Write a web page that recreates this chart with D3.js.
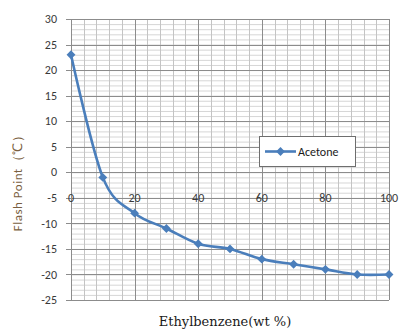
<!DOCTYPE html>
<html>
<head>
<meta charset="utf-8">
<script src="https://cdn.jsdelivr.net/npm/d3@7"></script>
<style>
  html, body { margin: 0; padding: 0; background: #fff; }
  svg { display: block; }
</style>
</head>
<body>
<svg id="chart" width="401" height="331"></svg>
<script>
// Flash point of acetone / ethylbenzene mixtures
const ethylbenzeneWt = [0, 10, 20, 30, 40, 50, 60, 70, 80, 90, 100];
const acetoneFlash   = [23, -1, -8, -11, -14, -15, -17, -18, -19, -20, -20];
const xTicks = [0, 20, 40, 60, 80, 100];
const yTicks = [30, 25, 20, 15, 10, 5, 0, -5, -10, -15, -20, -25];
const seriesName = "Acetone";

const svg = d3.select("#chart");
const x = d3.scaleLinear().domain([0, 100]).range([71, 389]);
const y = d3.scaleLinear().domain([-25, 30]).range([300, 19]);

// minor grid
const g = svg.append("g");
g.selectAll("line.hminor").data(d3.range(-25, 31, 1)).join("line")
  .attr("x1", x(0)).attr("x2", x(100))
  .attr("y1", d => y(d) + 0.5).attr("y2", d => y(d) + 0.5)
  .attr("stroke", "#d6d6d6").attr("stroke-width", 1);
g.selectAll("line.vminor").data(d3.range(0, 101, 4)).join("line")
  .attr("x1", d => Math.round(x(d)) + 0.5).attr("x2", d => Math.round(x(d)) + 0.5)
  .attr("y1", y(30)).attr("y2", y(-25))
  .attr("stroke", "#c4c4c4").attr("stroke-width", 1);
// major grid
g.selectAll("line.hmajor").data(yTicks).join("line")
  .attr("x1", x(0) - 5).attr("x2", x(100))
  .attr("y1", d => Math.round(y(d)) + 0.5).attr("y2", d => Math.round(y(d)) + 0.5)
  .attr("stroke", "#8c8c8c").attr("stroke-width", 1);
g.selectAll("line.vmajor").data(xTicks).join("line")
  .attr("x1", d => Math.round(x(d)) + 0.5).attr("x2", d => Math.round(x(d)) + 0.5)
  .attr("y1", y(30)).attr("y2", y(-25))
  .attr("stroke", "#8c8c8c").attr("stroke-width", 1);

// axis labels
const tickFont = "Carlito, 'Open Sans', 'Liberation Sans', sans-serif";
svg.selectAll("text.ytick").data(yTicks).join("text")
  .attr("x", 57).attr("y", d => y(d)).attr("dy", "0.35em")
  .attr("text-anchor", "end")
  .attr("font-family", tickFont).attr("font-size", 12).attr("fill", "#3a3a3a")
  .text(d => d);
svg.selectAll("text.xtick").data(xTicks).join("text")
  .attr("x", d => x(d)).attr("y", y(-5)).attr("dy", "0.35em")
  .attr("text-anchor", "middle")
  .attr("font-family", tickFont).attr("font-size", 12).attr("fill", "#3a3a3a")
  .text(d => d);

// titles
svg.append("text")
  .attr("transform", "translate(22,180) rotate(-90)")
  .attr("text-anchor", "middle")
  .attr("font-family", tickFont).attr("font-size", 13).attr("fill", "#7a6040")
  .attr("letter-spacing", 0.5)
  .text("Flash  Point（℃）");
svg.append("text")
  .attr("x", 225).attr("y", 326)
  .attr("text-anchor", "middle")
  .attr("font-family", "'DejaVu Serif', 'Liberation Serif', serif").attr("font-size", 13).attr("fill", "#1a1a1a")
  .text("Ethylbenzene(wt %)");

// series
const data = ethylbenzeneWt.map((w, i) => ({ w, t: acetoneFlash[i] }));
const color = "#4a7ebb";
const line = d3.line().x(d => x(d.w)).y(d => y(d.t)).curve(d3.curveCardinal.tension(0));
svg.append("path").datum(data)
  .attr("d", line).attr("fill", "none")
  .attr("stroke", color).attr("stroke-width", 2.6).attr("stroke-linejoin", "round");
const diamond = d3.symbol().type(d3.symbolDiamond2).size(50);
svg.selectAll("path.pt").data(data).join("path")
  .attr("transform", d => `translate(${x(d.w)},${y(d.t)})`)
  .attr("d", diamond).attr("fill", color);

// legend
const lg = svg.append("g").attr("transform", "translate(259,136)");
lg.append("rect").attr("x", 0.5).attr("y", 0.5).attr("width", 96).attr("height", 30)
  .attr("fill", "#fff").attr("stroke", "#6e6e6e").attr("stroke-width", 1);
lg.append("line").attr("x1", 6).attr("x2", 37).attr("y1", 15.5).attr("y2", 15.5)
  .attr("stroke", color).attr("stroke-width", 2.6);
lg.append("path").attr("transform", "translate(21.5,15.5)").attr("d", diamond).attr("fill", color);
lg.append("text").attr("x", 39).attr("y", 15.5).attr("dy", "0.35em")
  .attr("font-family", tickFont).attr("font-size", 12).attr("fill", "#1a1a1a")
  .text(seriesName);
</script>
</body>
</html>
